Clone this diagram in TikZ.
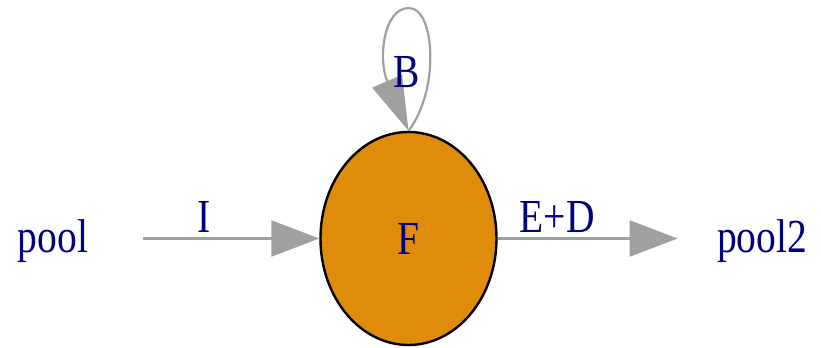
\documentclass[tikz,border=0pt]{standalone}
\usepackage{fontspec}
\setmainfont{Liberation Serif}
\usetikzlibrary{arrows.meta,shapes.geometric}
\definecolor{poolblue}{RGB}{0,0,128}
\definecolor{fluxgray}{RGB}{160,160,160}
\definecolor{stockorange}{RGB}{223,140,11}
\newcommand{\tall}[1]{\scalebox{1}[1.2]{#1}}
\begin{document}
\begin{tikzpicture}[x=0.5pt,y=0.5pt,>={Triangle[length=24pt,width=18pt]},font=\fontsize{19.75}{24}\selectfont]
\tikzstyle{lbl}=[text=poolblue,inner sep=0pt,anchor=base]
\tikzstyle{flux}=[draw=fluxgray,line width=1.1pt,->]
\useasboundingbox (0,0) rectangle (821,348);
\node[ellipse,draw,line width=1.2pt,fill=stockorange,minimum width=88pt,minimum height=106.5pt,inner sep=0pt,text=poolblue] (F) at (408.5,109.5) {\raisebox{-1.5pt}{\tall{F}}};
\node[lbl] (pool) at (53,95) {\tall{pool}}; \node[lbl] (pool2) at (762,95) {\tall{pool2}};
\draw[flux,shorten <=27pt] (pool.east|-F.center) -- node[lbl,above=2.5pt] (I) {\tall{I}} (F.west);
\draw[flux,shorten >=19.5pt] (F.east) -- node[lbl,above=2.5pt,xshift=-25pt] (ED) {\tall{E+D}} (pool2.west|-F.center);
\draw[flux,-{Triangle[length=27pt,width=16pt]}] (F.north) .. controls (440,258) and (435,340) .. (409,340) .. controls (383,340) and (378,288) .. (F.north);
\node[lbl] (B) at (407,260) {\tall{B}};
\end{tikzpicture}
\end{document}
